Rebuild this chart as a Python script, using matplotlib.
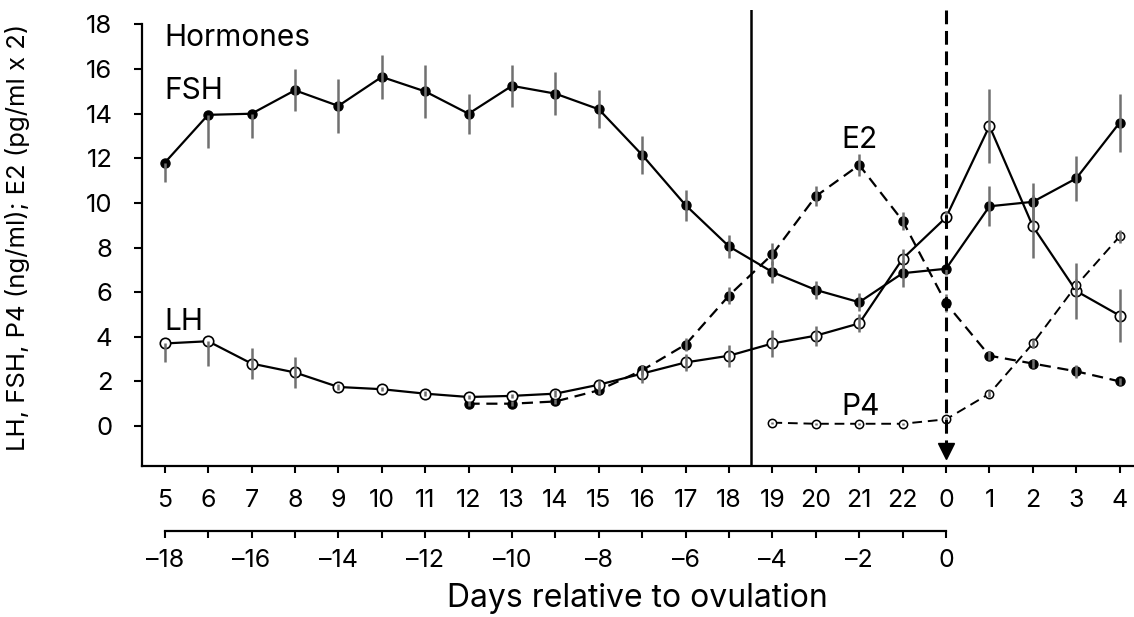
import matplotlib
matplotlib.use('Agg')
import matplotlib.pyplot as plt
import numpy as np

plt.rcParams['font.family'] = ['Inter', 'Liberation Sans', 'DejaVu Sans']

# ---------------- data ----------------
cycle_days = ['5', '6', '7', '8', '9', '10', '11', '12', '13', '14', '15', '16',
              '17', '18', '19', '20', '21', '22', '0', '1', '2', '3', '4']

fsh = [11.8, 13.95, 14.0, 15.05, 14.35, 15.65, 15.0, 14.0, 15.25, 14.9, 14.2,
       12.15, 9.9, 8.05, 6.9, 6.1, 5.55, 6.85, 7.05, 9.85, 10.05, 11.1, 13.6]
fsh_err_lo = [0.85, 1.5, 1.1, 0.95, 1.2, 1.0, 1.2, 0.9, 0.95, 0.95, 0.85,
              0.85, 0.7, 0.5, 0.5, 0.4, 0.4, 0.6, 0.3, 0.9, 0.85, 1.0, 1.3]
fsh_err_hi = [0.0, 0.0, 0.0, 0.95, 1.2, 1.0, 1.2, 0.9, 0.95, 0.95, 0.85,
              0.85, 0.7, 0.5, 0.5, 0.4, 0.4, 0.6, 0.3, 0.9, 0.85, 1.0, 1.3]

lh = [3.7, 3.8, 2.8, 2.4, 1.75, 1.65, 1.45, 1.3, 1.35, 1.45, 1.85, 2.35,
      2.85, 3.15, 3.7, 4.05, 4.6, 7.5, 9.35, 13.45, 8.95, 6.05, 4.95]
lh_err_lo = [0.85, 1.1, 0.7, 0.7, 0.15, 0.1, 0.1, 0.1, 0.1, 0.15, 0.2, 0.4,
             0.4, 0.5, 0.6, 0.45, 0.4, 0.45, 0.3, 1.65, 1.4, 1.25, 1.2]
lh_err_hi = [0.0, 0.0, 0.7, 0.7, 0.15, 0.1, 0.1, 0.1, 0.1, 0.15, 0.2, 0.4,
             0.4, 0.5, 0.6, 0.45, 0.4, 0.45, 0.3, 1.65, 1.4, 1.25, 1.2]

e2_first_day = '12'
e2 = [1.0, 1.0, 1.1, 1.6, 2.5, 3.65, 5.85, 7.7, 10.3, 11.7, 9.2, 5.5,
      3.15, 2.8, 2.45, 2.0]
e2_err = [0.1, 0.1, 0.1, 0.15, 0.2, 0.3, 0.4, 0.5, 0.45, 0.5, 0.4, 0.4,
          0.2, 0.2, 0.3, 0.15]

p4_first_day = '19'
p4 = [0.15, 0.1, 0.1, 0.1, 0.3, 1.45, 3.7, 6.3, 8.5]
p4_err = [0.05, 0.05, 0.05, 0.05, 0.1, 0.15, 0.2, 0.3, 0.3]

rel_days = list(range(-18, 1))           # days relative to ovulation
y_ticks = list(range(0, 19, 2))

# ---------------- figure ----------------
W, H = 1134, 617
fig = plt.figure(figsize=(W / 100, H / 100), dpi=100)

left_px, right_px = 141.7, 1134
bottom_px, top_px = 465.7, 10
ax = fig.add_axes([left_px / W, (H - bottom_px) / H,
                   (right_px - left_px) / W, (bottom_px - top_px) / H])

x = np.arange(len(cycle_days))
i_e2 = cycle_days.index(e2_first_day)
i_p4 = cycle_days.index(p4_first_day)
x_e2 = x[i_e2:i_e2 + len(e2)]
x_p4 = x[i_p4:i_p4 + len(p4)]

ecol = '#707070'
ekw = dict(fmt='none', ecolor=ecol, elinewidth=1.8, capsize=0, zorder=5)

# FSH
ax.plot(x, fsh, '-', color='black', lw=1.6, marker='o', ms=6.5,
        mfc='black', mec='black', zorder=3)
ax.errorbar(x, fsh, yerr=[fsh_err_lo, fsh_err_hi], **ekw)

# LH
ax.plot(x, lh, '-', color='black', lw=1.6, marker='o', ms=7.5,
        mfc='white', mec='black', mew=1.2, zorder=4)
ax.errorbar(x, lh, yerr=[lh_err_lo, lh_err_hi], **ekw)

# E2
ax.plot(x_e2, e2, '--', color='black', lw=1.6, dashes=(5, 3), marker='o',
        ms=6.5, mfc='black', mec='black', zorder=3)
ax.errorbar(x_e2, e2, yerr=e2_err, **ekw)

# P4
ax.plot(x_p4, p4, '--', color='black', lw=1.4, dashes=(5, 3), marker='o',
        ms=6, mfc='white', mec='black', mew=1.1, zorder=4)
ax.errorbar(x_p4, p4, yerr=p4_err, **ekw)

# vertical markers
x_bound = cycle_days.index('18') + 0.5
x_ov = cycle_days.index('0')
ax.axvline(x_bound, color='black', lw=1.8, zorder=2)
ax.plot([x_ov, x_ov], [18.65, -0.85], color='black', lw=2.2,
        dashes=(4.5, 2.2), zorder=6, clip_on=False)
ax.plot([x_ov], [-1.1], marker='v', ms=11, color='black', zorder=6,
        clip_on=False)

# labels inside
fs_lab = 21.5
ax.text(0.0, 17.4, 'Hormones', fontsize=fs_lab, ha='left', va='center')
ax.text(0.0, 15.0, 'FSH', fontsize=fs_lab, ha='left', va='center')
ax.text(0.0, 4.65, 'LH', fontsize=fs_lab, ha='left', va='center')
ax.text(15.6, 12.8, 'E2', fontsize=fs_lab, ha='left', va='center')
ax.text(15.6, 0.85, 'P4', fontsize=fs_lab, ha='left', va='center')

# axes styling
ax.set_xlim(-0.53, 22.33)
ax.set_ylim(-1.78, 18.65)
for s in ['top', 'right']:
    ax.spines[s].set_visible(False)
ax.spines['left'].set_bounds(-1.78, 18)
ax.spines['left'].set_linewidth(1.6)
ax.spines['bottom'].set_linewidth(1.6)
ax.set_yticks(y_ticks)
ax.set_yticklabels([str(v) for v in y_ticks])
ax.set_xticks(x)
ax.set_xticklabels(cycle_days)
ax.tick_params(axis='y', direction='out', length=6, width=1.5,
               labelsize=18.5, pad=15)
ax.tick_params(axis='x', direction='out', length=5, width=1.5,
               labelsize=18, pad=12)
ax.set_ylabel('LH, FSH, P4 (ng/ml); E2 (pg/ml x 2)', fontsize=18.5)
ax.yaxis.set_label_coords((30 - left_px) / (right_px - left_px), 0.5)

# secondary axis: days relative to ovulation
sec_y_px = 531
ax2 = fig.add_axes([left_px / W, (H - sec_y_px) / H,
                    (right_px - left_px) / W, 0.0001])
ax2.set_xlim(ax.get_xlim())
for s in ['top', 'right', 'left']:
    ax2.spines[s].set_visible(False)
ax2.spines['bottom'].set_bounds(0, len(rel_days) - 1)
ax2.spines['bottom'].set_linewidth(1.6)
ax2.set_yticks([])
ax2.set_xticks(np.arange(len(rel_days)))
ax2.set_xticklabels([('\u2013' + str(-d) if d < 0 else str(d)) if d % 2 == 0 else ''
                     for d in rel_days])
ax2.tick_params(axis='x', direction='out', length=5, width=1.5,
                labelsize=18, pad=8)
ax2.set_xlabel('Days relative to ovulation', fontsize=23, labelpad=8)
ax2.patch.set_visible(False)

fig.savefig('out.png', dpi=100)
